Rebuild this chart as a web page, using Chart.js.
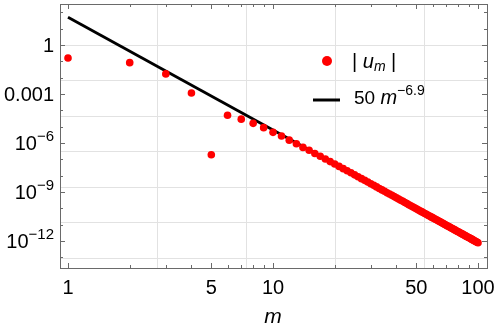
<!DOCTYPE html>
<html>
<head>
<meta charset="utf-8">
<script src="https://cdn.jsdelivr.net/npm/chart.js@4.4.1/dist/chart.umd.min.js"></script>
<style>
  html, body { margin: 0; padding: 0; background: #fff; }
  #wrap { width: 498px; height: 331px; }
</style>
</head>
<body>
<div id="wrap"><canvas id="chart"></canvas></div>

<script>
// mode index m and |u_m|
const mValues = [
    1, 2, 3, 4, 5, 6, 7, 8, 9, 10,
    11, 12, 13, 14, 15, 16, 17, 18, 19, 20,
    21, 22, 23, 24, 25, 26, 27, 28, 29, 30,
    31, 32, 33, 34, 35, 36, 37, 38, 39, 40,
    41, 42, 43, 44, 45, 46, 47, 48, 49, 50,
    51, 52, 53, 54, 55, 56, 57, 58, 59, 60,
    61, 62, 63, 64, 65, 66, 67, 68, 69, 70,
    71, 72, 73, 74, 75, 76, 77, 78, 79, 80,
    81, 82, 83, 84, 85, 86, 87, 88, 89, 90,
    91, 92, 93, 94, 95, 96, 97, 98, 99, 100
];
const uValues = [
    0.16, 0.083, 0.017, 1.15e-3, 1.9e-7, 5.0e-5, 2.9e-5, 1.6e-5, 8.7e-6, 4.5e-6,
    2.7e-6, 1.5e-6, 9.1e-7, 5.4e-7, 3.6e-7, 2.3e-7, 1.55e-7, 1.05e-7, 7.3e-8, 5.2e-8,
    3.7e-8, 2.7e-8, 2.0e-8, 1.5e-8, 1.13e-8, 8.6e-9, 6.6e-9, 5.2e-9, 4.1e-9, 3.2e-9,
    2.56e-9, 2.06e-9, 1.66e-9, 1.35e-9, 1.11e-9, 9.1e-10, 7.6e-10, 6.3e-10, 5.25e-10, 4.4e-10,
    3.7e-10, 3.15e-10, 2.7e-10, 2.3e-10, 1.96e-10, 1.68e-10, 1.45e-10, 1.26e-10, 1.09e-10, 9.5e-11,
    8.25e-11, 7.2e-11, 6.3e-11, 5.6e-11, 4.9e-11, 4.3e-11, 3.8e-11, 3.4e-11, 3.0e-11, 2.7e-11,
    2.4e-11, 2.14e-11, 1.92e-11, 1.72e-11, 1.55e-11, 1.39e-11, 1.26e-11, 1.13e-11, 1.03e-11, 9.3e-12,
    8.4e-12, 7.65e-12, 6.95e-12, 6.3e-12, 5.8e-12, 5.3e-12, 4.8e-12, 4.4e-12, 4.0e-12, 3.7e-12,
    3.4e-12, 3.1e-12, 2.87e-12, 2.64e-12, 2.43e-12, 2.24e-12, 2.07e-12, 1.91e-12, 1.77e-12, 1.64e-12,
    1.52e-12, 1.41e-12, 1.31e-12, 1.22e-12, 1.13e-12, 1.05e-12, 9.8e-13, 9.1e-13, 8.5e-13, 7.9e-13
];

// fit line 50 m^-6.9, straight on log-log so its two ends are enough
const fitM = [1, 100];
const fitU = [50, 7.9e-13];

// axes
const xMajorTicks = [1, 5, 10, 50, 100];
const xMinorTicks = [2, 3, 4, 6, 7, 8, 9, 20, 30, 40, 60, 70, 80, 90];
const yMajorTicks = [1, 1e-3, 1e-6, 1e-9, 1e-12];
const yMajorLabels = [['1', ''], ['0.001', ''], ['10', '\u22126'], ['10', '\u22129'], ['10', '\u221212']];
const yMinorTicks = [1e2, 1e1, 1e-1, 1e-2, 1e-4, 1e-5, 1e-7, 1e-8, 1e-10, 1e-11, 1e-13];
// Mathematica puts the grid at powers of e
const xGrid = [2.718, 7.389, 20.09, 54.6];
const yGrid = [1, 6.74e-3, 4.54e-5, 3.06e-7, 2.06e-9, 1.39e-11, 9.36e-14];

const FONT = '"Liberation Sans", Arial, sans-serif';
const frameColor = '#6a6a6a';
const gridColor = '#e2e2e2';

function runs(ctx, x, y, parts) {
    // draws pieces of text one after another: [text, font, dy]
    parts.forEach(p => {
        ctx.font = p[1];
        ctx.fillText(p[0], x, y + (p[2] || 0));
        x += ctx.measureText(p[0]).width;
    });
    return x;
}

const decor = {
    id: 'decor',
    beforeDatasetsDraw(chart) {
        const {ctx, chartArea: a, scales: {x, y}} = chart;
        ctx.save();
        ctx.strokeStyle = gridColor;
        ctx.lineWidth = 1;
        ctx.beginPath();
        xGrid.forEach(v => {
            const px = Math.round(x.getPixelForValue(v)) + 0.5;
            ctx.moveTo(px, a.top); ctx.lineTo(px, a.bottom);
        });
        yGrid.forEach(v => {
            const py = Math.round(y.getPixelForValue(v)) + 0.5;
            ctx.moveTo(a.left, py); ctx.lineTo(a.right, py);
        });
        ctx.stroke();
        ctx.restore();
    },
    afterDraw(chart) {
        const {ctx, chartArea: a, scales: {x, y}} = chart;
        ctx.save();

        // frame
        ctx.strokeStyle = frameColor;
        ctx.lineWidth = 1;
        ctx.strokeRect(Math.round(a.left) + 0.5, Math.round(a.top) + 0.5,
            Math.round(a.right - a.left), Math.round(a.bottom - a.top));

        // tick marks on all four sides
        ctx.beginPath();
        const xt = (v, len) => {
            const px = Math.round(x.getPixelForValue(v)) + 0.5;
            ctx.moveTo(px, a.bottom); ctx.lineTo(px, a.bottom - len);
            ctx.moveTo(px, a.top); ctx.lineTo(px, a.top + len);
        };
        const yt = (v, len) => {
            const py = Math.round(y.getPixelForValue(v)) + 0.5;
            ctx.moveTo(a.left, py); ctx.lineTo(a.left + len, py);
            ctx.moveTo(a.right, py); ctx.lineTo(a.right - len, py);
        };
        xMajorTicks.forEach(v => xt(v, 5));
        xMinorTicks.forEach(v => xt(v, 3));
        yMajorTicks.forEach(v => yt(v, 5));
        yMinorTicks.forEach(v => yt(v, 3));
        ctx.stroke();

        // x tick labels
        ctx.fillStyle = '#000';
        ctx.font = '20px ' + FONT;
        ctx.textAlign = 'center';
        ctx.textBaseline = 'alphabetic';
        xMajorTicks.forEach(v => {
            ctx.fillText(String(v), x.getPixelForValue(v), a.bottom + 26);
        });

        // y tick labels, with superscript exponents
        ctx.textAlign = 'left';
        yMajorTicks.forEach((v, i) => {
            const [base, sup] = yMajorLabels[i];
            const py = y.getPixelForValue(v);
            ctx.font = '20px ' + FONT;
            const wb = ctx.measureText(base).width;
            ctx.font = '15px ' + FONT;
            const ws = sup ? ctx.measureText(sup).width : 0;
            const x0 = a.left - 6 - wb - ws;
            runs(ctx, x0, py + 7, [[base, '20px ' + FONT], [sup, '15px ' + FONT, -9]]);
        });

        // axis title
        ctx.textAlign = 'center';
        ctx.font = 'italic 21px ' + FONT;
        ctx.fillText('m', x.getPixelForValue(10), a.bottom + 55);

        // legend
        ctx.textAlign = 'left';
        ctx.fillStyle = 'red';
        ctx.beginPath();
        ctx.arc(327, 61, 5, 0, Math.PI * 2);
        ctx.fill();
        ctx.fillStyle = '#000';
        runs(ctx, 352, 68, [
            ['| ', '20px ' + FONT],
            ['u', 'italic 20px ' + FONT],
            ['m', 'italic 14px ' + FONT, 3],
            [' |', '20px ' + FONT]
        ]);
        ctx.strokeStyle = '#000';
        ctx.lineWidth = 3;
        ctx.beginPath();
        ctx.moveTo(313, 100); ctx.lineTo(340, 100);
        ctx.stroke();
        runs(ctx, 354, 104, [
            ['50 ', '19px ' + FONT],
            ['m', 'italic 20px ' + FONT],
            ['\u22126.9', '14px ' + FONT, -9]
        ]);

        ctx.restore();
    }
};

const pointData = mValues.map((m, i) => ({x: m, y: uValues[i]}));
const fitData = fitM.map((m, i) => ({x: m, y: fitU[i]}));

new Chart(document.getElementById('chart'), {
    type: 'scatter',
    data: {
        datasets: [
            {
                label: '|u_m|',
                data: pointData,
                backgroundColor: '#ff0000',
                borderWidth: 0,
                pointRadius: 3.8,
                order: 0
            },
            {
                label: '50 m^-6.9',
                data: fitData,
                showLine: true,
                borderColor: '#000',
                borderWidth: 2.8,
                pointRadius: 0,
                order: 1
            }
        ]
    },
    options: {
        responsive: true,
        maintainAspectRatio: false,
        animation: false,
        layout: {padding: {left: 60, right: 11, top: 4, bottom: 63}},
        plugins: {legend: {display: false}, tooltip: {enabled: false}},
        scales: {
            x: {type: 'logarithmic', min: 0.914, max: 110.6, display: false},
            y: {type: 'logarithmic', min: 2.24e-14, max: 323, display: false}
        }
    },
    plugins: [decor]
});
</script>
</body>
</html>
